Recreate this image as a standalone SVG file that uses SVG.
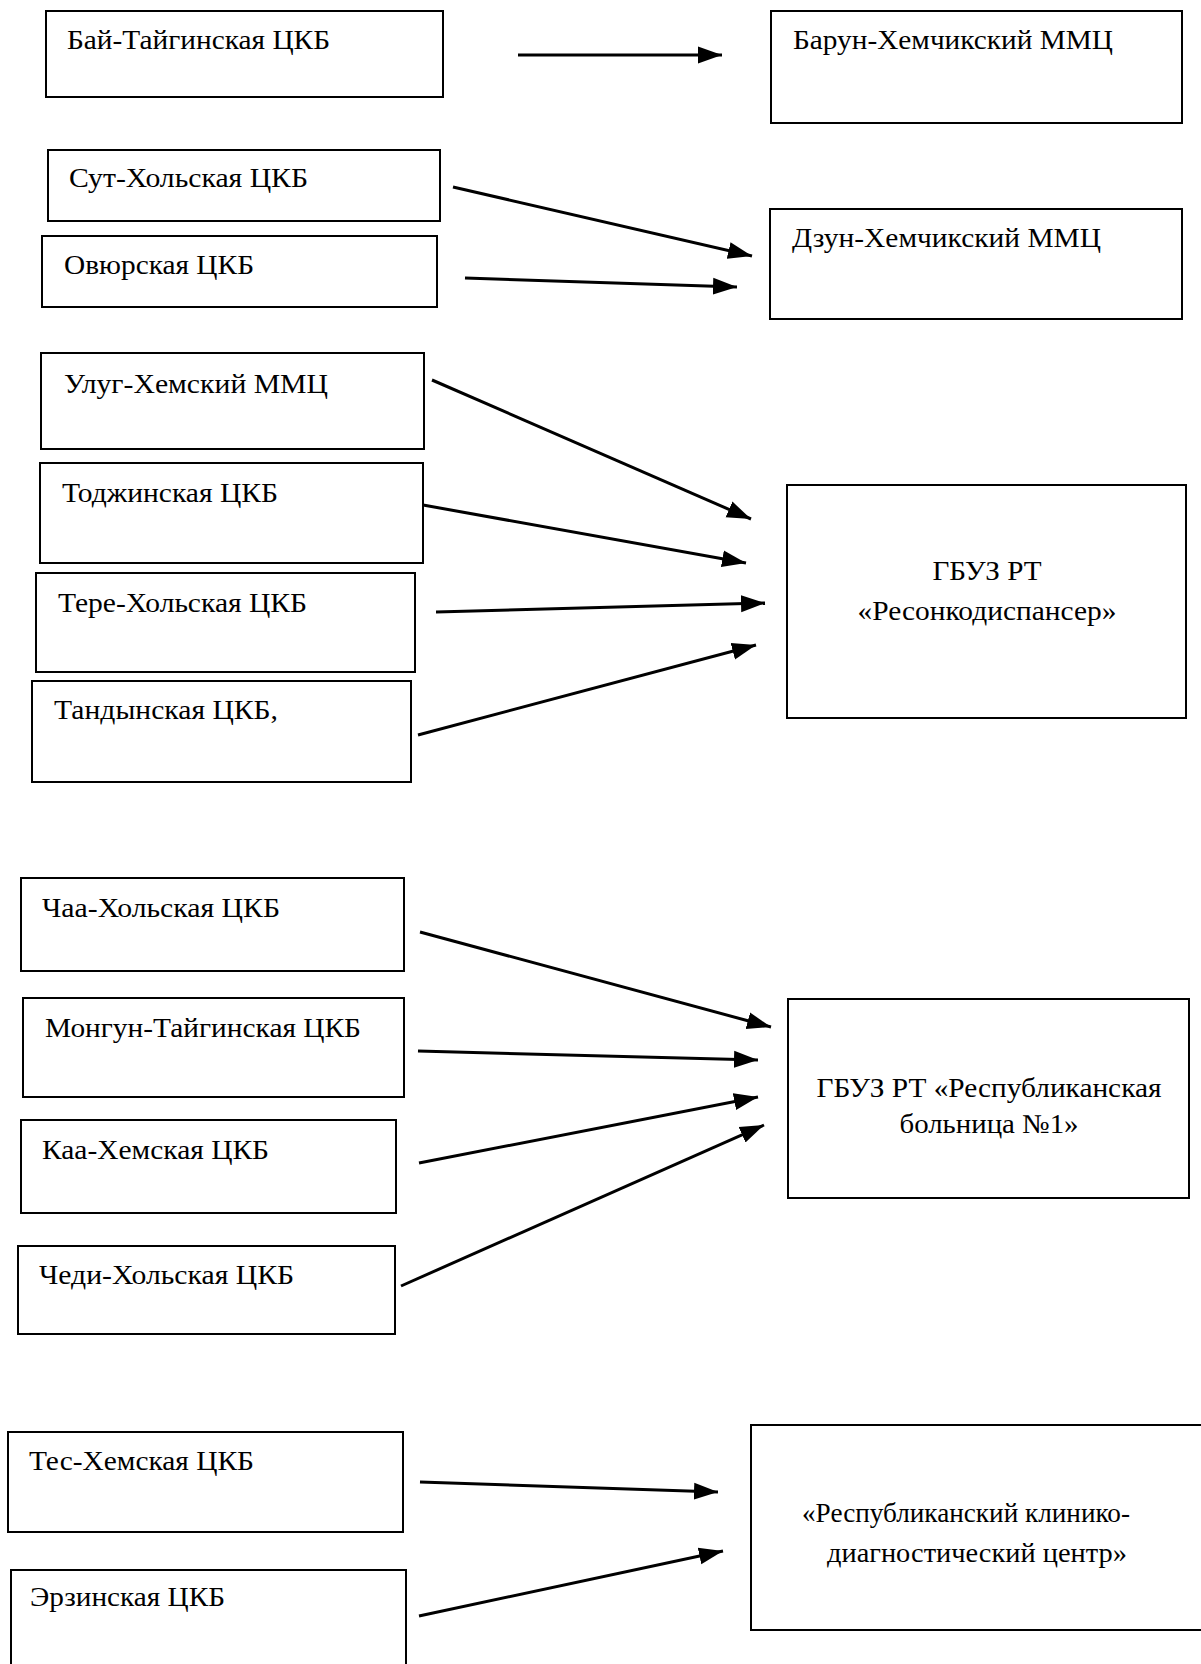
<svg xmlns="http://www.w3.org/2000/svg" width="1201" height="1664" viewBox="0 0 1201 1664">
<defs>
<marker id="ah" markerUnits="userSpaceOnUse" markerWidth="26" markerHeight="20" viewBox="0 0 26 20" refX="24" refY="10" orient="auto">
<path d="M0,1.5 L24,10 L0,18.5 Z" fill="#000"/>
</marker>
<style>
.box{fill:#fff;stroke:#000;stroke-width:2}
.t{font-family:"Liberation Serif","Times New Roman",serif;font-size:27px;fill:#000}
.c{text-anchor:middle}
.arr{stroke:#000;stroke-width:3;fill:none;marker-end:url(#ah)}
</style>
</defs>
<rect width="1201" height="1664" fill="#fff"/>

<g id="bai"><rect class="box" x="46" y="11" width="397" height="86"/><text class="t" x="67" y="49" textLength="263" lengthAdjust="spacingAndGlyphs">Бай-Тайгинская ЦКБ</text></g>
<g id="barun"><rect class="box" x="771" y="11" width="411" height="112"/><text class="t" x="793" y="49" textLength="320" lengthAdjust="spacingAndGlyphs">Барун-Хемчикский ММЦ</text></g>

<g id="sut"><rect class="box" x="48" y="150" width="392" height="71"/><text class="t" x="69" y="187" textLength="239" lengthAdjust="spacingAndGlyphs">Сут-Хольская ЦКБ</text></g>
<g id="ovur"><rect class="box" x="42" y="236" width="395" height="71"/><text class="t" x="64" y="274" textLength="190" lengthAdjust="spacingAndGlyphs">Овюрская ЦКБ</text></g>
<g id="dzun"><rect class="box" x="770" y="209" width="412" height="110"/><text class="t" x="792" y="247" textLength="309" lengthAdjust="spacingAndGlyphs">Дзун-Хемчикский ММЦ</text></g>

<g id="ulug"><rect class="box" x="41" y="353" width="383" height="96"/><text class="t" x="64" y="393" textLength="264" lengthAdjust="spacingAndGlyphs">Улуг-Хемский ММЦ</text></g>
<g id="todzh"><rect class="box" x="40" y="463" width="383" height="100"/><text class="t" x="62" y="502" textLength="216" lengthAdjust="spacingAndGlyphs">Тоджинская ЦКБ</text></g>
<g id="tere"><rect class="box" x="36" y="573" width="379" height="99"/><text class="t" x="58" y="612" textLength="249" lengthAdjust="spacingAndGlyphs">Тере-Хольская ЦКБ</text></g>
<g id="tandy"><rect class="box" x="32" y="681" width="379" height="101"/><text class="t" x="54" y="719" textLength="224" lengthAdjust="spacingAndGlyphs">Тандынская ЦКБ,</text></g>
<g id="onko"><rect class="box" x="787" y="485" width="399" height="233"/><text class="t c" x="987" y="580" textLength="109" lengthAdjust="spacingAndGlyphs">ГБУЗ РТ</text><text class="t c" x="987" y="620" textLength="259" lengthAdjust="spacingAndGlyphs">«Ресонкодиспансер»</text></g>

<g id="chaa"><rect class="box" x="21" y="878" width="383" height="93"/><text class="t" x="42" y="917" textLength="238" lengthAdjust="spacingAndGlyphs">Чаа-Хольская ЦКБ</text></g>
<g id="mongun"><rect class="box" x="23" y="998" width="381" height="99"/><text class="t" x="45" y="1037" textLength="316" lengthAdjust="spacingAndGlyphs">Монгун-Тайгинская ЦКБ</text></g>
<g id="kaa"><rect class="box" x="21" y="1120" width="375" height="93"/><text class="t" x="42" y="1159" textLength="227" lengthAdjust="spacingAndGlyphs">Каа-Хемская ЦКБ</text></g>
<g id="chedi"><rect class="box" x="18" y="1246" width="377" height="88"/><text class="t" x="39" y="1284" textLength="255" lengthAdjust="spacingAndGlyphs">Чеди-Хольская ЦКБ</text></g>
<g id="rb1"><rect class="box" x="788" y="999" width="401" height="199"/><text class="t c" x="989" y="1097" textLength="345" lengthAdjust="spacingAndGlyphs">ГБУЗ РТ «Республиканская</text><text class="t c" x="989" y="1133" textLength="179" lengthAdjust="spacingAndGlyphs">больница №1»</text></g>

<g id="tes"><rect class="box" x="8" y="1432" width="395" height="100"/><text class="t" x="29" y="1470" textLength="225" lengthAdjust="spacingAndGlyphs">Тес-Хемская ЦКБ</text></g>
<g id="erzin"><rect class="box" x="11" y="1570" width="395" height="100"/><text class="t" x="30" y="1606" textLength="195" lengthAdjust="spacingAndGlyphs">Эрзинская ЦКБ</text></g>
<g id="rkdc"><rect class="box" x="751" y="1425" width="460" height="205"/><text class="t c" x="966" y="1522" textLength="328" lengthAdjust="spacingAndGlyphs">«Республиканский клинико-</text><text class="t c" x="977" y="1562" textLength="300" lengthAdjust="spacingAndGlyphs">диагностический центр»</text></g>

<g id="connectors">
<line class="arr" x1="518" y1="55" x2="722" y2="55"/>
<line class="arr" x1="453" y1="187" x2="752" y2="256"/>
<line class="arr" x1="465" y1="278" x2="737" y2="287"/>
<line class="arr" x1="432" y1="380" x2="751" y2="519"/>
<line class="arr" x1="423" y1="505" x2="746" y2="563"/>
<line class="arr" x1="436" y1="612" x2="765" y2="603"/>
<line class="arr" x1="418" y1="735" x2="756" y2="645"/>
<line class="arr" x1="420" y1="932" x2="771" y2="1027"/>
<line class="arr" x1="418" y1="1051" x2="758" y2="1060"/>
<line class="arr" x1="419" y1="1163" x2="758" y2="1097"/>
<line class="arr" x1="401" y1="1286" x2="764" y2="1125"/>
<line class="arr" x1="420" y1="1482" x2="718" y2="1492"/>
<line class="arr" x1="419" y1="1616" x2="723" y2="1551"/>
</g>
</svg>
